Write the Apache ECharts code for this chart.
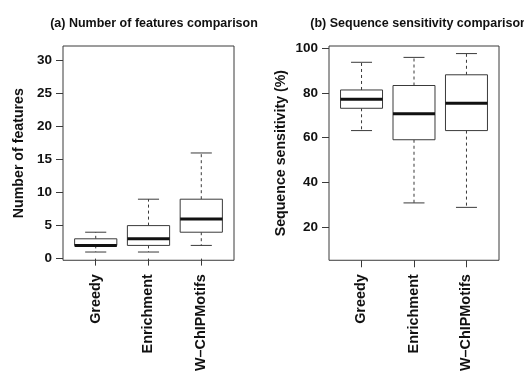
<!DOCTYPE html>
<html>
<head>
<meta charset="utf-8">
<script src="https://cdn.jsdelivr.net/npm/echarts@6/dist/echarts.min.js"></script>
<style>
  html, body { margin: 0; padding: 0; background: #fff; }
  #chart { width: 524px; height: 374px; }
</style>
</head>
<body>
<div id="chart"></div>
<script>
const categories = ['Greedy', 'Enrichment', 'W–ChIPMotifs']

// [min, Q1, median, Q3, max] per method
const featureStats = [
  [1, 2, 2, 3, 4],
  [1, 2, 3, 5, 9],
  [2, 4, 6, 9, 16],
]
const sensitivityStats = [
  [63.1, 73.1, 77.1, 81.3, 93.7],
  [30.7, 59.0, 70.6, 83.3, 95.9],
  [28.7, 63.1, 75.3, 88.1, 97.6],
]

const featureTicks = [0, 5, 10, 15, 20, 25, 30]
const sensitivityTicks = [20, 40, 60, 80, 100]
const categoryTicks = [1, 2, 3]

const FONT = "'Liberation Sans', Arial, sans-serif"
const LINE = '#3a3a3a'

function boxItem(params, api) {
  const x = api.value(0)
  const lo = api.coord([x, api.value(1)])
  const q1 = api.coord([x, api.value(2)])
  const med = api.coord([x, api.value(3)])
  const q3 = api.coord([x, api.value(4)])
  const hi = api.coord([x, api.value(5)])
  const w = api.size([0.8, 0])[0]
  const cx = lo[0]
  const stroke = { stroke: LINE, lineWidth: 1, fill: null }
  const dashed = { stroke: LINE, lineWidth: 1, lineDash: [3, 3] }
  return {
    type: 'group',
    children: [
      { type: 'line', shape: { x1: cx, y1: q3[1], x2: cx, y2: hi[1] }, style: dashed },
      { type: 'line', shape: { x1: cx, y1: q1[1], x2: cx, y2: lo[1] }, style: dashed },
      { type: 'line', shape: { x1: cx - w / 4, y1: hi[1], x2: cx + w / 4, y2: hi[1] }, style: stroke },
      { type: 'line', shape: { x1: cx - w / 4, y1: lo[1], x2: cx + w / 4, y2: lo[1] }, style: stroke },
      { type: 'rect', shape: { x: cx - w / 2, y: q3[1], width: w, height: q1[1] - q3[1] }, style: { stroke: LINE, lineWidth: 1, fill: '#fff' } },
      { type: 'line', shape: { x1: cx - w / 2, y1: med[1], x2: cx + w / 2, y2: med[1] }, style: { stroke: '#111', lineWidth: 3 } },
    ],
  }
}

function seriesData(stats) {
  return stats.map((s, i) => [i + 1].concat(s))
}

function xAxis(gridIndex) {
  return {
    type: 'value',
    gridIndex,
    min: 0.38,
    max: 3.62,
    splitLine: { show: false },
    axisLine: { show: false },
    axisTick: { show: true, length: 7, customValues: categoryTicks, lineStyle: { color: LINE } },
    axisLabel: {
      customValues: categoryTicks,
      rotate: 90,
      margin: 14,
      color: '#111',
      fontWeight: 'bold',
      fontSize: 14.4,
      fontFamily: FONT,
      formatter: v => categories[Math.round(v) - 1],
    },
  }
}

function yAxis(gridIndex, name, nameGap, min, max, ticks) {
  return {
    type: 'value',
    gridIndex,
    min,
    max,
    name,
    nameLocation: 'middle',
    nameRotate: 90,
    nameGap,
    nameTextStyle: { color: '#111', fontWeight: 'bold', fontSize: 14.2, fontFamily: FONT },
    splitLine: { show: false },
    axisLine: { show: false },
    axisTick: { show: true, length: 7, customValues: ticks, lineStyle: { color: LINE } },
    axisLabel: {
      customValues: ticks,
      margin: 11,
      color: '#111',
      fontWeight: 'bold',
      fontSize: 13.5,
      fontFamily: FONT,
    },
  }
}

const chart = echarts.init(document.getElementById('chart'))
chart.setOption({
  animation: false,
  backgroundColor: '#fff',
  title: [
    {
      text: '(a) Number of features comparison',
      left: 149, top: 12, textAlign: 'center',
      textStyle: { color: '#111', fontWeight: 'bold', fontSize: 12.5, fontFamily: FONT },
    },
    {
      text: '(b) Sequence sensitivity comparison',
      left: 414, top: 12, textAlign: 'center',
      textStyle: { color: '#111', fontWeight: 'bold', fontSize: 12.5, fontFamily: FONT },
    },
  ],
  grid: [
    { left: 63, width: 171, top: 46, height: 218, show: true, borderColor: LINE, borderWidth: 1, backgroundColor: 'transparent' },
    { left: 329, width: 170, top: 46, height: 218, show: true, borderColor: LINE, borderWidth: 1, backgroundColor: 'transparent' },
  ],
  xAxis: [xAxis(0), xAxis(1)],
  yAxis: [
    yAxis(0, 'Number of features', 37, -0.25, 32.2, featureTicks),
    yAxis(1, 'Sequence sensitivity (%)', 41, 5.0, 101.0, sensitivityTicks),
  ],
  series: [
    {
      type: 'custom', xAxisIndex: 0, yAxisIndex: 0,
      renderItem: boxItem,
      encode: { x: 0, y: [1, 2, 3, 4, 5] },
      data: seriesData(featureStats),
    },
    {
      type: 'custom', xAxisIndex: 1, yAxisIndex: 1,
      renderItem: boxItem,
      encode: { x: 0, y: [1, 2, 3, 4, 5] },
      data: seriesData(sensitivityStats),
    },
  ],
})
</script>
</body>
</html>
